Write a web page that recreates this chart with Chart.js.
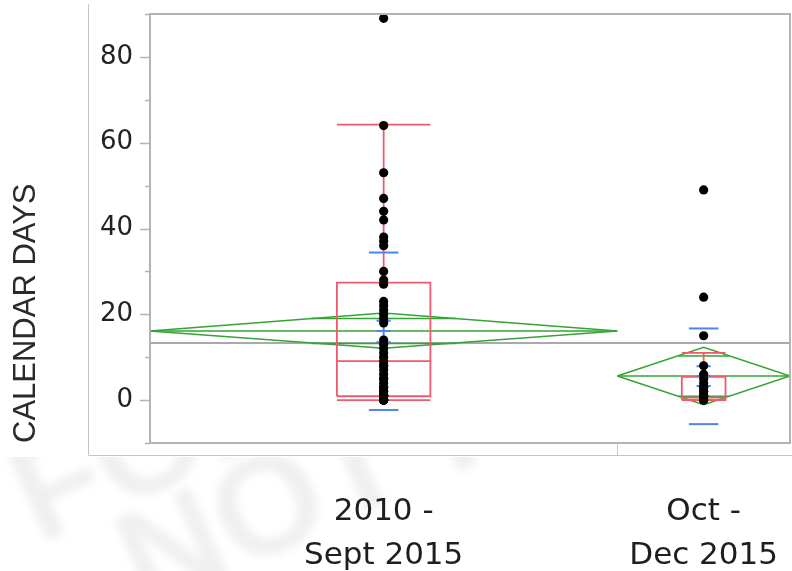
<!DOCTYPE html>
<html>
<head>
<meta charset="utf-8">
<title>Calendar days by period</title>
<script src="https://cdn.jsdelivr.net/npm/chart.js@4.4.0/dist/chart.umd.min.js"></script>
<style>
  html, body { margin: 0; padding: 0; background: #fff; }
  #wrap { width: 792px; height: 571px; }
</style>
</head>
<body>
<div id="wrap"><canvas id="chart" width="792" height="571"></canvas></div>
<script>
// --- data ---
const groupLabels = [['2010 -', 'Sept 2015'], ['Oct -', 'Dec 2015']];
const groupCounts = [46, 17];

const daysEarly = [89, 64, 53, 47, 44, 42, 38, 37, 36, 30, 28, 27,
                   23, 22, 21, 20, 19, 18, 14, 13, 12, 11, 10,
                   9, 8, 8, 7, 6, 5, 5, 4, 3, 3, 2,
                   2, 1, 1, 1, 1, 1, 0, 0, 0, 0, 0, 0];
const daysLate = [49, 24, 15, 8, 6, 5, 4, 3, 3, 2, 2, 1, 1, 1, 0, 0, 0];

// box plot (quantiles)
const boxQ1 = [0.9, 0];
const boxMedian = [9.1, 0.6];
const boxQ3 = [27.4, 5.4];
const whiskerLow = [0, 0];
const whiskerHigh = [64.2, 11.0];

// means diamonds
const groupMean = [16.1, 5.6];
const ciLow = [12.1, -1.1];
const ciHigh = [20.3, 12.3];
const overlapLow = [13.2, 0.9];
const overlapHigh = [19.0, 10.3];

// std dev / std error marks
const sdLow = [-2.3, -5.6];
const sdHigh = [34.4, 16.7];
const seLow = [13.5, 3.3];
const seHigh = [18.5, 7.9];

const grandMean = 13.3;
const yTickLabels = [0, 20, 40, 60, 80];

// --- styling ---
const RED = '#ef5a6c';
const GREEN = '#35a335';
const BLUE = '#4d84f5';
const GRID = '#b3b3b3';
const BOX_HALF = [4.6, 2.15];   // box half widths, x units
const SD_HALF = 1.45;
const SE_HALF = 0.7;
const WIDE_FONT = '"DejaVu Sans", "Liberation Sans", Arial, sans-serif';

const total = groupCounts.reduce((a, b) => a + b, 0);
const starts = groupCounts.map((n, i) => groupCounts.slice(0, i).reduce((a, b) => a + b, 0));
const centers = starts.map((s, i) => s + groupCounts[i] / 2);

// helper: one line piece through the chart's scales
function seg(pts, color, width, order) {
    return {
        type: 'line',
        data: pts.map(([x, y]) => ({ x, y })),
        borderColor: color,
        borderWidth: width,
        pointRadius: 0,
        pointHoverRadius: 0,
        showLine: true,
        fill: false,
        tension: 0,
        order: order
    };
}

const datasets = [];

// points on top
[daysEarly, daysLate].forEach((vals, i) => {
    datasets.push({
        type: 'scatter',
        data: vals.map(v => ({ x: centers[i], y: v })),
        backgroundColor: '#000',
        borderWidth: 0,
        pointRadius: 4.6,
        order: 0
    });
});

groupCounts.forEach((n, i) => {
    const c = centers[i], s = starts[i], e = s + n, m = groupMean[i];
    const b = BOX_HALF[i];

    // std dev and std error (blue)
    datasets.push(seg([[c - SD_HALF, sdHigh[i]], [c + SD_HALF, sdHigh[i]]], BLUE, 2, 1));
    datasets.push(seg([[c - SD_HALF, sdLow[i]], [c + SD_HALF, sdLow[i]]], BLUE, 2, 1));
    datasets.push(seg([[c, seLow[i]], [c, seHigh[i]]], BLUE, 2, 1));
    [seLow[i], m, seHigh[i]].forEach(y => {
        datasets.push(seg([[c - SE_HALF, y], [c + SE_HALF, y]], BLUE, 2, 1));
    });

    // box plot (red)
    datasets.push(seg([[c - b, boxQ1[i]], [c + b, boxQ1[i]], [c + b, boxQ3[i]], [c - b, boxQ3[i]], [c - b, boxQ1[i]]], RED, 1.8, 2));
    datasets.push(seg([[c - b, boxMedian[i]], [c + b, boxMedian[i]]], RED, 1.8, 2));
    datasets.push(seg([[c, boxQ3[i]], [c, whiskerHigh[i]]], RED, 1.8, 2));
    datasets.push(seg([[c - b, whiskerHigh[i]], [c + b, whiskerHigh[i]]], RED, 1.8, 2));
    datasets.push(seg([[c, boxQ1[i]], [c, whiskerLow[i]]], RED, 1.8, 2));
    datasets.push(seg([[c - b, whiskerLow[i]], [c + b, whiskerLow[i]]], RED, 1.8, 2));

    // means diamond (green)
    datasets.push(seg([[s, m], [c, ciHigh[i]], [e, m], [c, ciLow[i]], [s, m]], GREEN, 1.5, 3));
    datasets.push(seg([[s, m], [e, m]], GREEN, 1.5, 3));
    [overlapHigh[i], overlapLow[i]].forEach(y => {
        const half = Math.abs(y - m) / (ciHigh[i] - m);
        const dx = (n / 2) * (1 - half);
        datasets.push(seg([[c - dx, y], [c + dx, y]], GREEN, 1.5, 3));
    });
});

// grand mean line
datasets.push(seg([[0, grandMean], [total, grandMean]], '#a9a9a9', 2, 4));

// background, watermark, frame and tick marks
const framePlugin = {
    id: 'frame',
    beforeDraw(chart) {
        const ctx = chart.ctx;
        ctx.save();
        ctx.fillStyle = '#fff';
        ctx.fillRect(0, 0, chart.width, chart.height);

        // faint watermark below the graph box
        ctx.beginPath();
        ctx.rect(0, 457, chart.width, chart.height - 457);
        ctx.clip();
        ctx.filter = 'blur(4px)';
        ctx.fillStyle = 'rgba(0,0,0,0.06)';
        ctx.font = 'bold 140px "Liberation Sans", Arial, sans-serif';
        ctx.save();
        ctx.translate(38, 545);
        ctx.rotate(-0.42);
        ctx.fillText('FOR REVIEW', 0, 0);
        ctx.restore();
        ctx.translate(145, 612);
        ctx.rotate(-0.42);
        ctx.fillText('NOT FOR.', 0, 0);
        ctx.restore();
    },
    afterDraw(chart) {
        const ctx = chart.ctx;
        const a = chart.chartArea;
        const y = chart.scales.y;
        const x = chart.scales.x;
        ctx.save();
        ctx.strokeStyle = GRID;
        ctx.lineWidth = 2;
        ctx.strokeRect(a.left, a.top, a.right - a.left, a.bottom - a.top);

        // y tick marks, long at labelled values
        ctx.lineWidth = 1.5;
        for (let v = -10; v <= 90; v += 10) {
            const py = Math.round(y.getPixelForValue(v)) + 0.5;
            const len = yTickLabels.includes(v) ? 10 : 5;
            ctx.beginPath();
            ctx.moveTo(a.left - len, py);
            ctx.lineTo(a.left, py);
            ctx.stroke();
        }

        // outer axis box
        ctx.strokeStyle = '#c4c4c4';
        ctx.lineWidth = 1;
        ctx.beginPath();
        ctx.moveTo(88.5, 4);
        ctx.lineTo(88.5, 455.5);
        ctx.lineTo(chart.width, 455.5);
        ctx.stroke();

        // group divider tick
        const px = Math.round(x.getPixelForValue(starts[1])) + 0.5;
        ctx.beginPath();
        ctx.moveTo(px, a.bottom);
        ctx.lineTo(px, 455.5);
        ctx.stroke();
        ctx.restore();
    }
};

new Chart(document.getElementById('chart'), {
    type: 'scatter',
    data: { datasets },
    options: {
        responsive: false,
        animation: false,
        layout: { autoPadding: false, padding: { top: 14, right: 2, left: 0, bottom: 0 } },
        plugins: {
            legend: { display: false },
            tooltip: { enabled: false }
        },
        scales: {
            x: {
                type: 'linear',
                min: 0,
                max: total,
                grid: { display: false },
                border: { display: false },
                afterFit: s => {
                    s.height = 571 - 443;
                    s.paddingLeft = 0;
                    s.paddingRight = 0;
                },
                afterBuildTicks: axis => { axis.ticks = centers.map(v => ({ value: v })); },
                ticks: {
                    autoSkip: false,
                    maxRotation: 0,
                    padding: 38,
                    color: '#1e1e1e',
                    font: { family: WIDE_FONT, size: 31, lineHeight: 1.45 },
                    callback: (v, i) => groupLabels[i]
                }
            },
            y: {
                min: -10,
                max: 90,
                grid: { display: false },
                border: { display: false },
                afterFit: s => {
                    s.width = 150;
                    s.paddingTop = 0;
                    s.paddingBottom = 0;
                },
                ticks: {
                    stepSize: 10,
                    padding: 9,
                    color: '#222',
                    font: { family: WIDE_FONT, size: 26 },
                    callback: v => yTickLabels.includes(v) ? String(v) : ''
                },
                title: {
                    display: true,
                    text: 'CALENDAR DAYS',
                    align: 'start',
                    color: '#2a2a2a',
                    padding: { top: 8, bottom: 0 },
                    font: { family: '"Liberation Sans", Arial, sans-serif', size: 31 }
                }
            }
        }
    },
    plugins: [framePlugin]
});
</script>
</body>
</html>
